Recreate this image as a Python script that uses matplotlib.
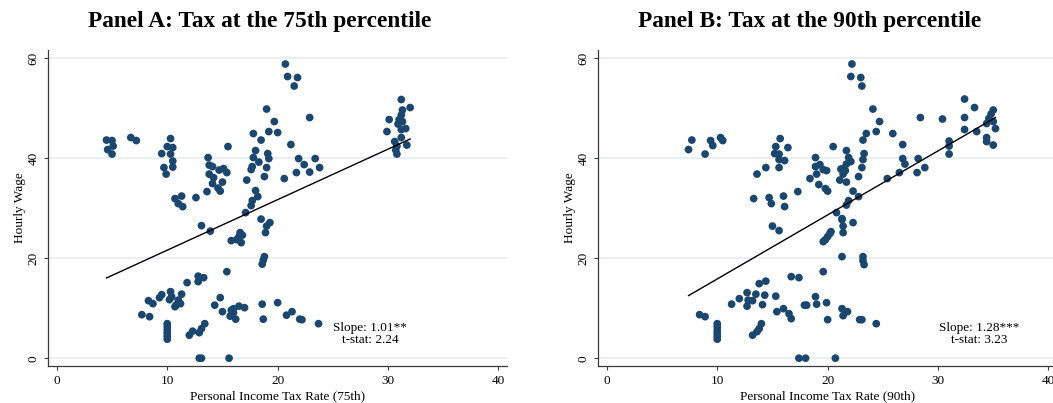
import numpy as np
import matplotlib.pyplot as plt

# Panel A: tax at the 75th percentile
tax_75 = [4.5, 5.0, 4.6, 5.1, 5.0, 6.7, 7.2,
          10.3, 10.0, 10.5, 9.5, 10.3, 10.5, 9.7, 10.5, 9.9,
          10.7, 11.3, 11.0, 11.4, 12.6,
          15.5, 13.7, 13.8, 14.1, 14.7, 15.1, 15.4, 13.8, 14.2, 14.1, 15.0, 14.6, 14.8, 13.6,
          19.0, 19.7, 19.2, 20.0, 17.8, 18.5, 18.0, 19.1, 17.8, 19.2, 18.3, 17.7, 17.6, 19.0,
          18.8, 17.2, 18.0, 18.2, 17.7, 17.6, 17.1, 18.5, 19.3, 19.0, 18.9,
          20.7, 20.9, 21.8, 21.5, 22.9, 21.2, 21.9, 23.4, 22.4, 23.8, 21.7, 22.9, 20.6,
          31.2, 32.0, 31.3, 31.2, 31.0, 30.1, 31.3, 30.9, 31.2, 31.6, 29.9, 31.2, 30.6,
          30.8, 31.7, 30.7, 30.8,
          13.1, 13.9, 16.6, 16.5, 15.8, 16.7, 16.3, 16.8,
          18.8, 18.7, 18.6, 15.4,
          12.8, 13.3, 12.8, 11.8, 11.3, 11.0, 10.8, 10.7, 11.2, 10.3, 10.4, 10.2, 9.5, 9.3,
          8.3, 8.7, 7.7, 8.4,
          10.0, 10.0, 10.0, 10.0, 10.0, 10.0,
          12.0, 12.3, 12.9, 13.1, 13.4,
          12.9, 13.1, 15.6,
          14.3, 14.8, 15.0, 15.8, 16.0, 16.5, 17.0, 15.7, 16.2, 16.0,
          18.6, 18.7, 20.0, 20.8, 21.3, 22.0, 22.2, 23.7]
wage_75 = [43.6, 43.5, 41.7, 42.4, 40.8, 44.1, 43.5,
           43.9, 42.3, 42.1, 40.9, 40.8, 39.4, 38.1, 38.2, 36.8,
           31.9, 32.4, 30.9, 30.3, 32.1,
           42.3, 40.1, 38.6, 38.3, 37.6, 37.9, 37.1, 36.8, 36.1, 34.9, 35.2, 34.0, 33.4, 33.3,
           49.8, 47.3, 45.3, 45.1, 44.9, 43.6, 41.5, 40.9, 40.1, 39.9, 39.2, 38.3, 37.7, 38.1,
           36.3, 35.6, 33.5, 32.3, 31.5, 30.5, 29.1, 27.8, 27.1, 26.4, 25.1,
           58.8, 56.3, 56.1, 54.4, 48.1, 42.7, 39.9, 39.9, 38.7, 38.1, 37.1, 37.2, 35.9,
           51.7, 50.1, 49.6, 48.6, 47.7, 47.7, 47.3, 46.8, 45.7, 45.9, 45.3, 44.1, 43.3,
           42.4, 42.6, 41.6, 40.8,
           26.5, 25.4, 25.1, 24.3, 23.5, 23.1, 23.7, 24.6,
           20.3, 19.6, 18.8, 17.3,
           16.4, 16.1, 15.3, 15.1, 12.8, 11.6, 10.6, 10.3, 10.9, 13.3, 12.3, 11.7, 12.7, 12.1,
           11.5, 10.9, 8.7, 8.3,
           6.9, 6.3, 5.6, 5.0, 4.4, 3.8,
           4.6, 5.4, 5.1, 5.9, 6.9,
           0.0, 0.0, 0.0,
           10.6, 12.1, 9.3, 9.6, 9.9, 10.4, 10.1, 8.4, 7.8, 9.1,
           10.8, 7.8, 11.1, 8.6, 9.3, 7.8, 7.7, 6.9]

# Panel B: tax at the 90th percentile
tax_90 = [7.7, 7.4, 8.9, 9.4, 9.6, 10.3, 10.5,
          15.7, 15.3, 16.4, 15.2, 15.6, 16.1, 15.6, 15.6, 14.4, 13.6,
          13.3, 14.7, 14.9, 16.0, 16.1, 17.3,
          20.5, 18.9, 19.3, 18.9, 19.6, 19.9, 19.0, 18.4, 19.2, 19.8, 20.0,
          21.7, 21.9, 22.1, 21.7, 21.4, 21.2, 21.6, 21.4, 21.1, 21.7, 22.8, 23.1, 23.2, 23.3,
          23.2, 23.5, 24.4, 24.1, 24.7,
          22.2, 22.1, 23.0, 23.1,
          22.3, 22.8, 21.9, 21.7, 20.8, 21.3,
          25.9, 26.8, 28.4, 30.4, 32.4, 33.3, 32.4, 32.4, 33.5,
          35.0, 34.8, 34.6, 34.4, 35.0, 35.2, 34.4, 34.4, 35.0,
          31.0, 31.0, 31.0,
          28.2, 28.8, 28.1, 26.8, 27.0, 26.5, 25.4,
          15.0, 15.6, 16.7, 17.4,
          19.6, 19.8, 20.0, 20.2, 20.3,
          21.4, 21.4, 21.3, 22.3,
          19.6, 21.3, 23.2, 23.2, 23.3,
          8.4, 8.9,
          10.0, 10.0, 10.0, 10.0, 10.0, 10.0,
          11.3, 12.0, 12.7, 12.8, 12.7, 13.2, 13.5, 13.8, 14.4, 14.3, 14.1, 15.3, 15.4, 16.0,
          16.5, 16.7,
          13.2, 13.6, 13.8, 14.0,
          17.9, 18.1, 18.9, 19.0, 19.9, 20.0, 21.3, 21.8, 21.4, 22.9, 23.1, 24.4,
          17.4, 18.0, 20.7]
wage_90 = [43.6, 41.7, 40.8, 43.5, 42.5, 44.1, 43.5,
           43.9, 42.3, 42.1, 40.9, 40.8, 39.5, 39.7, 38.1, 38.1, 36.8,
           31.9, 32.1, 30.9, 32.4, 30.3, 33.3,
           42.3, 40.1, 38.7, 38.3, 37.7, 37.5, 36.8, 35.9, 34.7, 33.9, 33.4,
           41.5, 40.1, 39.3, 38.8, 37.9, 37.8, 37.5, 36.8, 35.6, 35.2, 36.3, 38.1, 39.7, 40.9,
           43.6, 44.9, 45.3, 49.8, 47.3,
           58.8, 56.3, 56.1, 54.4,
           33.4, 32.3, 31.5, 30.6, 29.1, 27.9,
           44.9, 42.7, 48.1, 47.8, 51.8, 50.1, 48.1, 45.7, 45.3,
           49.6, 48.8, 47.9, 46.9, 47.3, 45.9, 44.1, 43.3, 42.6,
           43.4, 42.4, 40.8,
           39.9, 38.1, 37.1, 39.9, 38.8, 37.1, 35.9,
           26.4, 25.5, 16.3, 16.1,
           23.3, 23.7, 24.3, 24.9, 25.3,
           25.1, 26.4, 27.7, 27.1,
           17.3, 20.3, 20.3, 19.5, 18.7,
           8.7, 8.3,
           6.9, 6.3, 5.6, 5.0, 4.4, 3.8,
           10.8, 11.9, 13.1, 11.6, 10.4, 11.5, 12.8, 14.9, 15.4, 12.6, 10.7, 12.4, 9.3, 9.9,
           8.9, 7.9,
           4.6, 5.3, 5.9, 6.9,
           10.6, 10.6, 12.3, 10.8, 11.1, 7.7, 9.9, 9.3, 8.5, 7.7, 7.7, 6.9,
           0.0, 0.0, 0.0]

# fitted lines (slope, intercept) and labels
fit_slope = [1.01, 1.28]
fit_intercept = [11.49, 3.04]
stat_text = ["Slope: 1.01**\nt-stat: 2.24", "Slope: 1.28***\nt-stat: 3.23"]
stat_pos = [(28.4, 4.8), (33.75, 4.8)]
titles = ["Panel A: Tax at the 75th percentile", "Panel B: Tax at the 90th percentile"]
xlabels = ["Personal Income Tax Rate (75th)", "Personal Income Tax Rate (90th)"]

plt.rcParams['font.family'] = ['Liberation Serif', 'DejaVu Serif']

navy = '#1a476f'
grid_col = '#e3ebf0'

fig = plt.figure(figsize=(10.53, 4.03), dpi=100)
W, H = 1053, 403
ax_lefts = [48, 598]
title_x = [260, 810]
panels = [(tax_75, wage_75), (tax_90, wage_90)]

for i, (xs, ys) in enumerate(panels):
    ax = fig.add_axes([ax_lefts[i] / W, 37.3 / H, 459.3 / W, 315.7 / H])
    xs = np.array(xs)
    ys = np.array(ys)
    for g in [0, 20, 40, 60]:
        ax.axhline(g, color=grid_col, lw=1.1, zorder=0)
    ax.scatter(xs, ys, s=31, color=navy, edgecolors='none', zorder=3)
    lx = np.array([xs.min(), xs.max()])
    ax.plot(lx, fit_intercept[i] + fit_slope[i] * lx, color='black', lw=1.0, zorder=4)
    ax.text(stat_pos[i][0], stat_pos[i][1], stat_text[i], ha='center', va='center',
            fontsize=9.5, linespacing=1.0)

    ax.set_xlim(-0.8, 40.8)
    ax.set_ylim(-1.5, 61.6)
    ax.set_xticks([0, 10, 20, 30, 40])
    ax.set_yticks([0, 20, 40, 60])
    ax.spines['top'].set_visible(False)
    ax.spines['right'].set_visible(False)
    for s in ['left', 'bottom']:
        ax.spines[s].set_color('#3a3a3a')
        ax.spines[s].set_linewidth(0.9)
    ax.tick_params(axis='both', length=3, width=0.8, color='#3a3a3a', labelsize=9.5, pad=4)
    ax.tick_params(axis='y', labelrotation=90, pad=3)
    for lab in ax.get_yticklabels():
        lab.set_va('center')
    ax.set_xlabel(xlabels[i], fontsize=9.5, labelpad=2)
    ax.set_ylabel("Hourly Wage", fontsize=9.5, labelpad=1)

    fig.text(title_x[i] / W, 1 - 22 / H, titles[i], ha='center', va='center',
             fontsize=16.8, fontweight='bold')

fig.savefig('out.png', dpi=100)
